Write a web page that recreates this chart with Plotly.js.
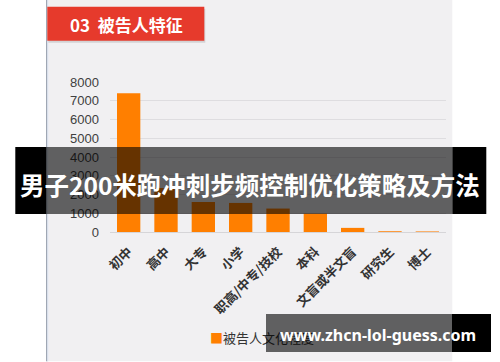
<!DOCTYPE html>
<html>
<head>
<meta charset="utf-8">
<script src="https://cdn.plot.ly/plotly-3.0.1.min.js"></script>
<style>html,body{margin:0;padding:0;background:#fff;}#chart{width:500px;height:362px;}</style>
</head>
<body>
<div id="chart"></div>
<script>
const categories = ['初中', '高中', '大专', '小学', '职高/中专/技校', '本科', '文盲或半文盲', '研究生', '博士'];
const values = [7400, 2350, 1600, 1550, 1250, 980, 220, 40, 30];
const yTicks = [0, 1000, 2000, 3000, 4000, 5000, 6000, 7000, 8000];
const seriesName = '被告人文化程度';
const sectionTitle = '03&nbsp;&nbsp;被告人特征';
const overlayTitle = '男子200米跑冲刺步频控制优化策略及方法';
const overlaySite = 'www.zhcn-lol-guess.com';

const W = 500, H = 362;
const M = {l: 109.7, r: 54.3, t: 82.3, b: 129.5};
const PW = W - M.l - M.r, PH = H - M.t - M.b;
const px = v => (v - M.l) / PW;
const py = v => (H - M.b - v) / PH;
const cjk = '"Noto Sans CJK SC", "Noto Sans", sans-serif';

function rect(x0, y0, x1, y1, color, layer) {
  return {type: 'rect', xref: 'paper', yref: 'paper', x0: px(x0), x1: px(x1), y0: py(y1), y1: py(y0),
          fillcolor: color, line: {width: 0}, layer: layer || 'below'};
}
function box(x0, y0, x1, y1, color) {
  return {xref: 'paper', yref: 'paper', x: px(x0), y: py(y0), xanchor: 'left', yanchor: 'top',
          width: x1 - x0, height: y1 - y0, bgcolor: color, borderpad: 0, borderwidth: 0,
          text: ' ', showarrow: false};
}

const trace = {
  type: 'bar', x: categories, y: values, name: seriesName,
  marker: {color: '#ff7f00'}, hoverinfo: 'x+y'
};

const shapes = [
  rect(46, 0, 452, 362, '#f1f0f2'),
  {type: 'line', xref: 'paper', yref: 'paper', x0: px(46.5), x1: px(46.5), y0: py(362), y1: py(0), line: {color: '#7c8799', width: 1}, layer: 'below'},
  {type: 'line', xref: 'paper', yref: 'paper', x0: px(47.5), x1: px(47.5), y0: py(362), y1: py(0), line: {color: '#dfe7f4', width: 1}, layer: 'below'},
  rect(48, 9, 205, 43, 'rgba(0,0,0,0.12)'),
  rect(47, 7, 204, 41, '#e63a2c'),
  rect(15, 147.5, 46, 214.5, '#000000', 'above'),
  rect(452, 147.5, 486, 214.5, '#000000', 'above'),
  rect(46, 147.5, 452, 214.5, 'rgba(0,0,0,0.6)', 'above')
];

const annotations = [
  {xref: 'paper', yref: 'paper', x: px(68), y: py(24.5), xanchor: 'left', yanchor: 'middle',
   text: '<b>' + sectionTitle + '</b>', showarrow: false, font: {family: cjk, size: 17, color: '#ffffff'}},
  {xref: 'paper', yref: 'paper', x: px(208), y: py(338), xanchor: 'left', yanchor: 'middle',
   text: '<span style="color:#ff7f00">■</span>' + seriesName, showarrow: false,
   font: {family: cjk, size: 13, color: '#333333'}},
  box(266, 315, 452, 352.5, 'rgba(0,0,0,0.6)'),
  box(452, 315, 491, 352.5, '#000000'),
  {xref: 'paper', yref: 'paper', x: px(378), y: py(336), xanchor: 'center', yanchor: 'middle',
   text: '<b>' + overlaySite + '</b>', showarrow: false, font: {family: '"Noto Sans", sans-serif', size: 16, color: '#ffffff'}},
  {xref: 'paper', yref: 'paper', x: px(250), y: py(185), xanchor: 'center', yanchor: 'middle',
   text: '<b>' + overlayTitle + '</b>', showarrow: false, font: {family: cjk, size: 24.5, color: '#ffffff'}}
];

const layout = {
  width: W, height: H,
  margin: {l: M.l, r: M.r, t: M.t, b: M.b, pad: 0},
  paper_bgcolor: '#ffffff', plot_bgcolor: 'rgba(0,0,0,0)',
  showlegend: false, bargap: 0.375,
  xaxis: {
    type: 'category', tickangle: -45, ticks: '', showgrid: false,
    showline: true, linecolor: '#d6d5d8', linewidth: 1, zeroline: false,
    tickfont: {family: cjk, size: 13, color: '#333333', weight: 'bold'},
    ticklabelstandoff: 6, automargin: false
  },
  yaxis: {
    range: [0, 8000], tickvals: yTicks, ticktext: yTicks.map(String), ticks: '',
    showgrid: true, gridcolor: '#dedde0', gridwidth: 1, zeroline: false, showline: false,
    tickfont: {family: '"Liberation Sans", Arial, sans-serif', size: 13, color: '#404040'},
    ticklabelstandoff: 10, automargin: false
  },
  shapes: shapes,
  annotations: annotations
};

Plotly.newPlot('chart', [trace], layout, {displayModeBar: false, staticPlot: true});
</script>
</body>
</html>
